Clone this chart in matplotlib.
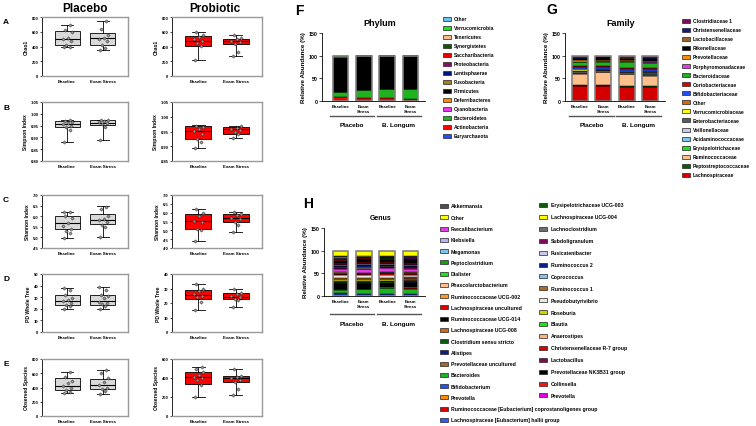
import matplotlib
matplotlib.use("Agg")
import numpy as np
import matplotlib.pyplot as plt
from matplotlib.patches import Rectangle

plt.rcParams['font.family'] = ['Liberation Sans', 'DejaVu Sans']
plt.rcParams['font.weight'] = 'bold'
plt.rcParams['axes.labelweight'] = 'bold'

W, H = 756, 427

# ---- alpha diversity: boxes as [min, q1, median, q3, max] for Baseline / Exam Stress ----
timepoints = ["Baseline", "Exam Stress"]
metric_labels = ["Chao1", "Simpson Index", "Shannon Index", "PD Whole Tree", "Observed Species"]
panel_letters = ["A", "B", "C", "D", "E"]

chao1_placebo = [[390, 420, 500, 610, 690], [350, 415, 510, 585, 750]]
chao1_probiotic = [[220, 410, 480, 545, 600], [265, 430, 470, 500, 550]]
simpson_placebo = [[0.880, 0.943, 0.955, 0.970, 0.972], [0.890, 0.952, 0.963, 0.972, 0.975]]
simpson_probiotic = [[0.893, 0.926, 0.953, 0.967, 0.971], [0.928, 0.943, 0.957, 0.965, 0.969]]
shannon_placebo = [[4.98, 5.38, 5.68, 6.02, 6.22], [5.02, 5.65, 5.80, 6.10, 6.50]]
shannon_probiotic = [[4.38, 5.08, 5.55, 5.95, 6.20], [4.88, 5.50, 5.70, 5.90, 6.05]]
pd_placebo = [[20, 23, 27, 32, 38], [19.5, 23, 26.5, 31.5, 39]]
pd_probiotic = [[15, 22.5, 25.5, 29, 33], [17, 22.5, 24, 27, 30]]
obs_placebo = [[320, 370, 415, 535, 615], [310, 375, 440, 515, 650]]
obs_probiotic = [[195, 340, 415, 460, 520], [225, 360, 400, 425, 490]]

# individual subjects
chao1_placebo_pts = [[390, 400, 420, 480, 500, 510, 600, 620, 690],
                     [350, 380, 420, 470, 500, 520, 560, 640, 750]]
chao1_probiotic_pts = [[220, 410, 450, 480, 500, 530, 560, 600],
                       [265, 320, 440, 460, 480, 500, 520, 550]]
simpson_placebo_pts = [[0.880, 0.930, 0.945, 0.950, 0.955, 0.960, 0.965, 0.970, 0.972],
                       [0.890, 0.945, 0.955, 0.960, 0.965, 0.970, 0.972, 0.975]]
simpson_probiotic_pts = [[0.893, 0.915, 0.925, 0.940, 0.953, 0.960, 0.965, 0.970],
                         [0.928, 0.940, 0.948, 0.955, 0.960, 0.963, 0.967]]
shannon_placebo_pts = [[4.98, 5.20, 5.30, 5.40, 5.55, 5.70, 5.90, 6.00, 6.20, 6.22],
                       [5.02, 5.50, 5.60, 5.75, 5.80, 5.85, 6.00, 6.35, 6.45]]
shannon_probiotic_pts = [[4.38, 5.00, 5.10, 5.50, 5.55, 5.80, 6.00, 6.20],
                         [4.88, 5.30, 5.50, 5.65, 5.70, 5.85, 5.95, 6.05]]
pd_placebo_pts = [[20, 22, 23, 25, 27, 28, 29, 32, 36, 38],
                  [19.5, 22, 24, 25, 26, 29, 31, 32, 36, 39]]
pd_probiotic_pts = [[15, 21, 24, 25, 26, 28, 30, 33],
                    [17, 22, 23, 24, 25, 26, 27, 30]]
obs_placebo_pts = [[320, 340, 370, 390, 415, 470, 490, 550, 615],
                   [310, 350, 380, 400, 440, 480, 530, 600, 650]]
obs_probiotic_pts = [[195, 330, 380, 400, 415, 430, 460, 500, 520],
                     [225, 280, 360, 380, 400, 410, 425, 490]]

# ---- relative abundance, stacks listed bottom -> top ----
bar_labels = ["Baseline", "Exam\nStress", "Baseline", "Exam\nStress"]
groups = ["Placebo", "B. Longum"]

phylum_names = ["Euryarchaeota", "Actinobacteria", "Bacteroidetes", "Cyanobacteria",
                "Deferribacteres", "Firmicutes", "Fusobacteria", "Lentisphaerae",
                "Proteobacteria", "Saccharibacteria", "Synergistetes", "Tenericutes",
                "Verrucomicrobia", "Other"]
phylum_colors = ["#1f4fff", "#ff0000", "#1fb31f", "#e23ce2", "#ff8c00", "#000000",
                 "#b07a1a", "#00147f", "#8c0a6e", "#e00000", "#0b5a0b", "#f7be8c",
                 "#19e619", "#6ac3ef"]
phylum_placebo_base = [0.2, 8, 12, 0.2, 0.1, 74.5, 0.1, 0.1, 0.5, 0.1, 0.1, 0.3, 3.5, 0.3]
phylum_placebo_exam = [0.2, 6, 17, 0.2, 0.1, 75, 0.1, 0.1, 0.6, 0.1, 0.1, 0.2, 0.1, 0.2]
phylum_bl_base = [0.2, 6, 21, 0.2, 0.1, 71.2, 0.1, 0.1, 0.5, 0.1, 0.1, 0.1, 0.1, 0.1]
phylum_bl_exam = [0.2, 5, 21, 0.2, 0.1, 72.3, 0.1, 0.1, 0.4, 0.1, 0.1, 0.1, 0.1, 0.1]

family_names = ["Lachnospiraceae", "Peptostreptococcaceae", "Ruminococcaceae",
                "Erysipelotrichaceae", "Acidaminococcaceae", "Veillonellaceae",
                "Enterobacteriaceae", "Verrucomicrobiaceae", "Other", "Bifidobacteriaceae",
                "Coriobacteriaceae", "Bacteroidaceae", "Porphyromonadaceae", "Prevotellaceae",
                "Rikenellaceae", "Lactobacillaceae", "Christensenellaceae", "Clostridiaceae 1"]
family_colors = ["#d40000", "#0b5a0b", "#ffc08c", "#19e619", "#7cc6ee", "#c8c8f0",
                 "#5a5a5a", "#ffff00", "#d8650f", "#1f4fff", "#e00000", "#1fb31f",
                 "#e23ce2", "#ff8c00", "#000000", "#a0622d", "#0a1f7f", "#7f0a55"]
family_placebo_base = [33, 2, 25, 1.5, 0.5, 1, 3, 3.5, 2, 4, 2, 8, 1, 3, 3, 0.5, 1.5, 5.5]
family_placebo_exam = [34, 2, 27, 1, 0.5, 1, 3, 0.5, 2, 4, 2, 10, 1, 3, 3, 0.5, 1.5, 4]
family_bl_base = [31, 2, 26, 1, 0.5, 1.5, 3, 0.5, 1.5, 4, 2.5, 13, 1, 3, 3, 0.5, 1.5, 4.5]
family_bl_exam = [30, 3, 23, 1.5, 1, 2, 3, 0.5, 2, 4, 2, 12, 1, 3, 4, 0.5, 2, 5.5]

genus_names = ["Bifidobacterium", "Lachnospiraceae [Eubacterium] hallii group", "Bacteroides",
               "Ruminococcaceae [Eubacterium] coprostanoligenes group", "Prevotella",
               "Ruminococcaceae UCG-014", "Dialister", "Alistipes", "Clostridium sensu stricto",
               "Prevotellaceae uncultured", "Roseburia", "Lachnospiraceae UCG-008",
               "Ruminococcaceae UCG-002", "Pseudobutyrivibrio", "Lachnospiraceae uncultured",
               "Blautia", "Coprococcus", "Anaerostipes", "Phascolarctobacterium",
               "Faecalibacterium", "Subdoligranulum", "Lachnoclostridium", "Ruminococcus 2",
               "Ruminococcus 1", "Fusicatenibacter", "Lactobacillus",
               "Christensenellaceae R-7 group", "Prevotellaceae NK3B31 group", "Collinsella",
               "Prevotella", "Peptoclostridium", "Megamonas", "Klebsiella",
               "Erysipelotrichaceae UCG-003", "Lachnospiraceae UCG-004", "Akkermansia", "Other"]
genus_colors = ["#1f4fff", "#2a5cff", "#1fb31f", "#e00000", "#ff8c00",
                "#000000", "#19e619", "#0a1f7f", "#0b5a0b",
                "#a0682a", "#d8d000", "#d8650f",
                "#ff9a1a", "#e6e6e6", "#e00000",
                "#19e619", "#7cc6ee", "#ffb07c", "#ffc08c",
                "#e23ce2", "#7f0a55", "#6e6e6e", "#0a1f8f",
                "#b06a20", "#c8c8f0", "#7f0a55",
                "#e00000", "#000000", "#ff1010",
                "#e000e0", "#13a013", "#7cc6ee", "#b4b4f0",
                "#0b5a0b", "#ffff00", "#4f4f4f", "#ffff00"]
genus_placebo_base = [4, 2, 8, 1, 1.5, 9, 2, 2, 2, 1.5, 4, 1, 1.5, 6, 3, 1, 1, 1, 1,
                      6, 3, 2, 2, 1, 1, 3, 2, 5, 3, 1, 1, 0.5, 0.5, 1, 0.5, 4, 11]
genus_placebo_exam = [4, 1.5, 9, 1, 0.5, 10, 1.5, 2, 2, 2, 4, 1, 1, 6, 2, 1, 1.5, 1, 0.5,
                      7, 2, 4, 3, 1, 1, 3, 2, 6.5, 2, 1, 1, 0.5, 0.5, 1, 0.5, 0.5, 12]
genus_bl_base = [4, 1.5, 12, 1, 0.5, 10, 1.5, 1, 1.5, 1, 3, 1.5, 1, 6, 4.5, 1, 1, 1, 0.5,
                 9, 2, 2, 1, 1, 1, 3, 2, 5, 2, 1, 1, 0.5, 0.5, 2, 0.5, 1, 12]
genus_bl_exam = [4, 1.5, 11, 1, 3, 7.5, 1, 2, 2, 2, 3, 1, 2, 5, 3, 1, 1, 1, 1,
                 7, 3, 2, 1, 1, 1, 3, 2, 8, 1.5, 1, 1, 0.5, 0.5, 1, 0.5, 1, 12]

# genus legend as printed (two columns)
genus_legend_1 = ["Akkermansia", "Other", "Faecalibacterium", "Klebsiella", "Megamonas",
                  "Peptoclostridium", "Dialister", "Phascolarctobacterium",
                  "Ruminococcaceae UCG-002", "Lachnospiraceae uncultured",
                  "Ruminococcaceae UCG-014", "Lachnospiraceae UCG-008",
                  "Clostridium sensu stricto", "Alistipes", "Prevotellaceae uncultured",
                  "Bacteroides", "Bifidobacterium", "Prevotella",
                  "Ruminococcaceae [Eubacterium] coprostanoligenes group",
                  "Lachnospiraceae [Eubacterium] hallii group"]
genus_legend_1_colors = ["#4f4f4f", "#ffff00", "#e23ce2", "#b4b4f0", "#7cc6ee", "#13a013",
                         "#19e619", "#ffc08c", "#ff9a1a", "#e00000", "#000000", "#d8650f",
                         "#0b5a0b", "#0a1f7f", "#a0682a", "#1fb31f", "#1f4fff", "#ff8c00",
                         "#e00000", "#2a5cff"]
genus_legend_2 = ["Erysipelotrichaceae UCG-003", "Lachnospiraceae UCG-004", "Lachnoclostridium",
                  "Subdoligranulum", "Fusicatenibacter", "Ruminococcus 2", "Coprococcus",
                  "Ruminococcus 1", "Pseudobutyrivibrio", "Roseburia", "Blautia", "Anaerostipes",
                  "Christensenellaceae R-7 group", "Lactobacillus", "Prevotellaceae NK3B31 group",
                  "Collinsella", "Prevotella"]
genus_legend_2_colors = ["#0b5a0b", "#ffff00", "#6e6e6e", "#7f0a55", "#c8c8f0", "#0a1f8f",
                         "#7cc6ee", "#b06a20", "#e6e6e6", "#d8d000", "#19e619", "#ffb07c",
                         "#e00000", "#7f0a55", "#000000", "#ff1010", "#e000e0"]


def rect(x0, y0, x1, y1):
    return [x0 / W, 1 - y1 / H, (x1 - x0) / W, (y1 - y0) / H]


def ftext(x, y, s, **kw):
    fig.text(x / W, 1 - y / H, s, **kw)


fig = plt.figure(figsize=(W / 100, H / 100), dpi=100)

box_stats = [[chao1_placebo, chao1_probiotic], [simpson_placebo, simpson_probiotic],
             [shannon_placebo, shannon_probiotic], [pd_placebo, pd_probiotic],
             [obs_placebo, obs_probiotic]]
box_pts = [[chao1_placebo_pts, chao1_probiotic_pts], [simpson_placebo_pts, simpson_probiotic_pts],
           [shannon_placebo_pts, shannon_probiotic_pts], [pd_placebo_pts, pd_probiotic_pts],
           [obs_placebo_pts, obs_probiotic_pts]]
limits = [[(0, 800, 200), (0, 800, 200)], [(0.80, 1.05, 0.05), (0.85, 1.05, 0.05)],
          [(4.5, 7.0, 0.5), (4.0, 7.0, 0.5)], [(0, 50, 10), (0, 40, 10)],
          [(0, 800, 200), (0, 600, 200)]]
fmts = ["{:.0f}", "{:.2f}", "{:.1f}", "{:.0f}", "{:.0f}"]
row_y = [(18, 77), (103, 162), (196, 249), (275, 333), (360, 417)]
col_x = [(42, 128), (172, 262)]
box_colors = ["#d9d9d9", "#ff0000"]
jitter = [-0.08, 0.07, -0.02, 0.11, -0.12, 0.03, 0.13, -0.05, 0.09, -0.1]

for r in range(5):
    ftext(3, row_y[r][0] + 5, panel_letters[r], fontsize=6, fontweight='bold', va='center')
    for c in range(2):
        ax = fig.add_axes(rect(col_x[c][0], row_y[r][0], col_x[c][1], row_y[r][1]))
        st = [dict(whislo=s[0], q1=s[1], med=s[2], q3=s[3], whishi=s[4], fliers=[])
              for s in box_stats[r][c]]
        ax.bxp(st, positions=[1, 2], widths=0.7, patch_artist=True, showfliers=False,
               boxprops=dict(facecolor=box_colors[c], edgecolor='black', linewidth=0.6),
               medianprops=dict(color='black', linewidth=0.8),
               whiskerprops=dict(color='black', linewidth=0.6),
               capprops=dict(color='black', linewidth=0.6), capwidths=0.35)
        for i, p in enumerate(box_pts[r][c]):
            xs = [i + 1 + jitter[k % len(jitter)] for k in range(len(p))]
            ax.scatter(xs, p, s=3, marker='D', facecolor='#9a9a9a', edgecolor='#202020',
                       linewidth=0.3, zorder=4)
        lo, hi, step = limits[r][c]
        ticks = np.arange(lo, hi + step / 2, step)
        ax.set_ylim(lo, hi)
        ax.set_yticks(ticks)
        ax.set_yticklabels([fmts[r].format(t) for t in ticks], fontsize=3)
        ax.set_xlim(0.3, 2.7)
        ax.set_xticks([1, 2])
        ax.set_xticklabels(timepoints, fontsize=3.2)
        ax.tick_params(axis='x', length=0, pad=2)
        ax.tick_params(axis='y', length=1.5, width=0.5, pad=1)
        ax.set_ylabel(metric_labels[r], fontsize=3.6, labelpad=2)
        for sp in ax.spines.values():
            sp.set_color('#9a9a9a')
            sp.set_linewidth(1.0)
        ax.spines['left'].set_color('black')
        ax.spines['left'].set_linewidth(0.6)

ftext(85, 9, "Placebo", fontsize=8.5, fontweight='bold', ha='center', va='center')
ftext(215, 9, "Probiotic", fontsize=8.5, fontweight='bold', ha='center', va='center')


def stacked_panel(box, xlim, bars, colors, title, title_y, title_fs, line_y, label_y):
    ax = fig.add_axes(rect(*box))
    bottoms = [0.0] * len(bars)
    for j, col in enumerate(colors):
        heights = [b[j] for b in bars]
        ax.bar(range(len(bars)), heights, bottom=bottoms, width=0.68, color=col,
               edgecolor='black', linewidth=0.35)
        bottoms = [a + h for a, h in zip(bottoms, heights)]
    ax.bar(range(len(bars)), bottoms, width=0.68, fill=False, edgecolor='#8a8a8a', linewidth=1.1)
    ax.set_xlim(*xlim)
    ax.set_ylim(0, 150)
    ax.set_yticks([0, 50, 100, 150])
    ax.tick_params(axis='y', labelsize=3.8, length=2, width=0.5, pad=1)
    ax.set_xticks(range(len(bars)))
    ax.set_xticklabels(bar_labels, fontsize=3.2, linespacing=1.1)
    ax.tick_params(axis='x', length=0, pad=2.5)
    ax.set_ylabel("Relative Abundance (%)", fontsize=4.5, labelpad=2)
    ax.spines['top'].set_visible(False)
    ax.spines['right'].set_visible(False)
    ax.spines['left'].set_linewidth(0.6)
    ax.spines['bottom'].set_linewidth(0.6)
    tr = ax.get_xaxis_transform()
    for g, (a, b) in enumerate([(-0.45, 1.45), (1.55, 3.45)]):
        ax.plot([a, b], [line_y, line_y], transform=tr, clip_on=False, color='#555555', lw=1.0)
        ax.text((a + b) / 2, label_y, groups[g], transform=tr, fontsize=4.6,
                ha='center', va='center')
    ftext(1.0 * (box[0] + box[2]) / 2 + 6, title_y, title, fontsize=title_fs,
          ha='center', va='center')
    return ax


def legend_column(names, colors, xp, xt, y0, dy, fs):
    for k, (n, c) in enumerate(zip(names, colors)):
        y = y0 + k * dy
        fig.patches.append(Rectangle((xp / W, 1 - (y + 2) / H), 8 / W, 4 / H,
                                     transform=fig.transFigure, figure=fig,
                                     facecolor=c, edgecolor='#222222', linewidth=0.5))
        ftext(xt, y, n, fontsize=fs, ha='left', va='center')


# F: phylum
stacked_panel((322, 34, 425, 102), (-0.79, 3.62),
              [phylum_placebo_base, phylum_placebo_exam, phylum_bl_base, phylum_bl_exam],
              phylum_colors, "Phylum", 23, 6.5, -0.22, -0.35)
ftext(299, 11, "F", fontsize=10, fontweight='bold', ha='center', va='center')
legend_column(phylum_names[::-1], phylum_colors[::-1], 443, 454, 19.5, 9.0, 3.6)

# G: family
stacked_panel((565, 34, 665, 102), (-0.64, 3.64),
              [family_placebo_base, family_placebo_exam, family_bl_base, family_bl_exam],
              family_colors, "Family", 23, 6.5, -0.22, -0.35)
ftext(552, 10, "G", fontsize=10, fontweight='bold', ha='center', va='center')
legend_column(family_names[::-1], family_colors[::-1], 682, 693, 21.7, 9.07, 3.6)

# H: genus
stacked_panel((324, 229, 425, 297), (-0.71, 3.62),
              [genus_placebo_base, genus_placebo_exam, genus_bl_base, genus_bl_exam],
              genus_colors, "Genus", 219, 5, -0.265, -0.4)
ftext(308, 204, "H", fontsize=10, fontweight='bold', ha='center', va='center')
legend_column(genus_legend_1, genus_legend_1_colors, 440, 451, 207, 11.26, 3.7)
legend_column(genus_legend_2, genus_legend_2_colors, 539, 551, 206, 11.9, 3.7)

fig.savefig("out.png", dpi=100)
